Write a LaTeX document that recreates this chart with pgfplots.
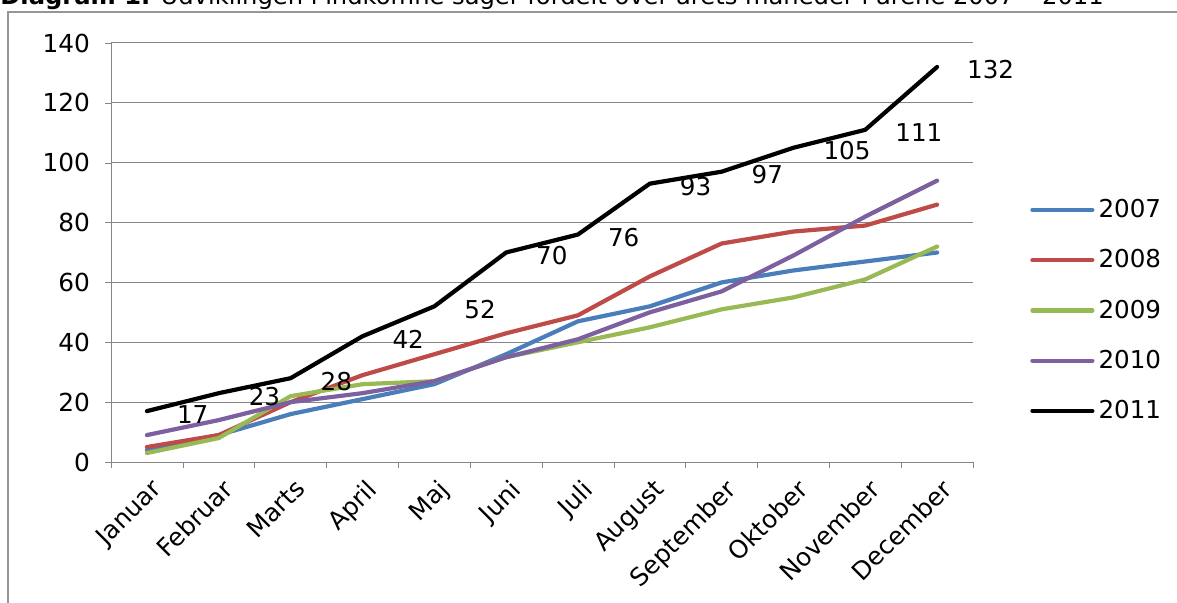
\documentclass[border=0pt]{standalone}
\usepackage{fontspec}
\setmainfont{DejaVu Sans}
\usepackage{pgfplots}
\pgfplotsset{compat=1.18}
\definecolor{c07}{HTML}{4A7EBB}
\definecolor{c08}{HTML}{BE4B48}
\definecolor{c09}{HTML}{98B954}
\definecolor{c10}{HTML}{7D60A0}
\definecolor{gridc}{RGB}{134,134,134}
\definecolor{framec}{RGB}{150,150,150}
\begin{document}
\begin{tikzpicture}
\useasboundingbox (0,0) rectangle (588.5pt,-301.5pt);
\draw[framec, line width=1pt] (4pt,-320pt) -- (4pt,-6pt) -- (600pt,-6pt);
\node[anchor=base west, inner sep=0, font=\fontsize{12.1}{14}\selectfont] at (0,-2.3pt) {\textbf{Diagram 1.} Udviklingen i indkomne sager fordelt over årets måneder i årene 2007 – 2011};
\begin{axis}[
  at={(55.5pt,-231pt)}, anchor=south west,
  width=431pt, height=209.5pt, scale only axis,
  xmin=-0.5, xmax=11.5, ymin=0, ymax=140,
  ytick={0,20,...,140},
  xtick={0,...,11},
  xticklabels={Januar,Februar,Marts,April,Maj,Juni,Juli,August,September,Oktober,November,December},
  minor xtick={-0.5,0.5,...,11.5},
  major x tick style={draw=none},
  axis x line=bottom, axis y line=left,
  axis line style={gridc, -},
  tick style={gridc},
  tick align=outside,
  major tick length=3pt, minor tick length=3pt,
  ymajorgrids, grid style={gridc, line width=0.5pt},
  /pgf/number format/assume math mode=true,
  tick label style={font=\fontsize{12.4}{14}\selectfont},
  yticklabel style={xshift=-4pt},
  xticklabel style={rotate=45, anchor=north east, xshift=1pt, yshift=-1pt},
  every axis plot/.append style={line width=2.1pt, line join=round, line cap=round, mark=none},
  legend style={draw=none, fill=none, at={(1.066,0.3616)}, anchor=west, row sep=10.5pt, inner sep=0pt, font=\fontsize{12.3}{14}\selectfont},
  legend cell align=left,
  legend image code/.code={\draw[#1] (0pt,0pt) -- (30pt,0pt);},
]
\addplot[c07] coordinates {(0,4)(1,9)(2,16)(3,21)(4,26)(5,36)(6,47)(7,52)(8,60)(9,64)(10,67)(11,70)};
\addlegendentry{2007}
\addplot[c08] coordinates {(0,5)(1,9)(2,20)(3,29)(4,36)(5,43)(6,49)(7,62)(8,73)(9,77)(10,79)(11,86)};
\addlegendentry{2008}
\addplot[c09] coordinates {(0,3)(1,8)(2,22)(3,26)(4,27)(5,35)(6,40)(7,45)(8,51)(9,55)(10,61)(11,72)};
\addlegendentry{2009}
\addplot[c10] coordinates {(0,9)(1,14)(2,20)(3,23)(4,27)(5,35)(6,41)(7,50)(8,57)(9,69)(10,82)(11,94)};
\addlegendentry{2010}
\addplot[black, nodes near coords, every node near coord/.style={anchor=west, inner sep=0pt, xshift=14pt, yshift=-1.5pt, black, font=\fontsize{12.3}{14}\selectfont}] coordinates {(0,17)(1,23)(2,28)(3,42)(4,52)(5,70)(6,76)(7,93)(8,97)(9,105)(10,111)(11,132)};
\addlegendentry{2011}
\end{axis}
\end{tikzpicture}
\end{document}
